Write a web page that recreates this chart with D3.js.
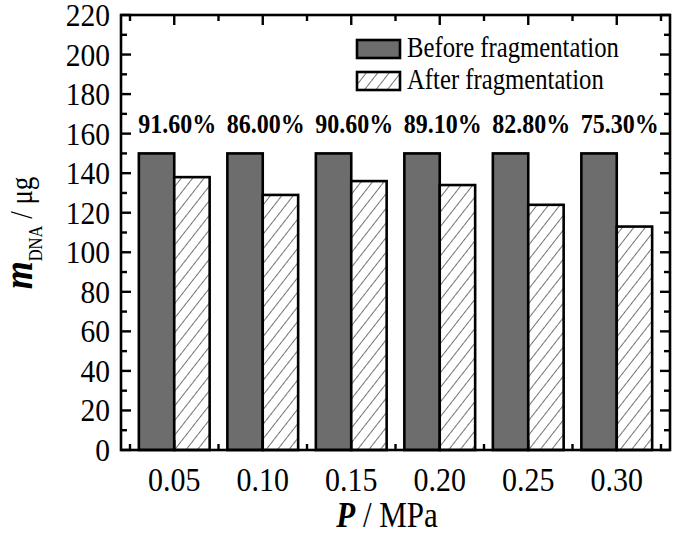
<!DOCTYPE html>
<html><head><meta charset="utf-8">
<script src="https://cdn.jsdelivr.net/npm/d3@7"></script>
<style>
body{margin:0;background:#fff;}
svg{display:block;}
text{font-family:"Liberation Serif","Times New Roman",serif;fill:#000;}
</style></head>
<body>
<svg id="c" width="675" height="542"></svg>
<script>
const categories = ["0.05","0.10","0.15","0.20","0.25","0.30"];
const seriesNames = ["Before fragmentation","After fragmentation"];
const beforeValues = [150,150,150,150,150,150];
const afterValues = [138,129,136,134,124,113];
const percentLabels = ["91.60%","86.00%","90.60%","89.10%","82.80%","75.30%"];
const yTicks = [0,20,40,60,80,100,120,140,160,180,200,220];

const svg = d3.select("#c");
const L=121, R=670, T=15, B=450;

const defs = svg.append("defs");
const pat = defs.append("pattern").attr("id","hatch").attr("patternUnits","userSpaceOnUse")
  .attr("width",9).attr("height",9).attr("patternTransform","rotate(38)");
pat.append("rect").attr("width",9).attr("height",9).attr("fill","#fff");
pat.append("line").attr("x1",0).attr("y1",0).attr("x2",0).attr("y2",9).attr("stroke","#000").attr("stroke-width",1.1);

const y = d3.scaleLinear().domain([0,220]).range([B,T]);
const x = d3.scaleBand().domain(categories).range([130,661]).padding(0);
const x1 = d3.scaleBand().domain(seriesNames).range([x.bandwidth()*0.1, x.bandwidth()*0.9]).padding(0);

const data = categories.map((c,i)=>({cat:c, vals:[beforeValues[i], afterValues[i]], pct:percentLabels[i]}));

function stxt(parent, px, py, k){
  return parent.append("text").attr("transform",`translate(${px},${py}) scale(1,${k})`);
}

// bars
const g = svg.append("g");
data.forEach(d=>{
  d.vals.forEach((v,j)=>{
    g.append("rect")
      .attr("x", x(d.cat)+x1(seriesNames[j]))
      .attr("y", y(v))
      .attr("width", x1.bandwidth())
      .attr("height", y(0)-y(v))
      .attr("fill", j===0 ? "#6d6d6d" : "url(#hatch)")
      .attr("stroke","#000").attr("stroke-width",2.6);
  });
  stxt(svg, x(d.cat)+x.bandwidth()/2+3, 133, 1.15)
    .attr("text-anchor","middle").attr("font-weight","bold").attr("font-size",24)
    .text(d.pct);
});

// axes ticks (inward)
const axes = svg.append("g").attr("stroke","#000").attr("stroke-width",2.4);
const yMinor = d3.range(0,221,10);
yMinor.forEach(v=>{
  const len = v%20===0 ? 10 : 6;
  axes.append("line").attr("x1",L).attr("x2",L+len).attr("y1",y(v)).attr("y2",y(v));
  axes.append("line").attr("x1",R).attr("x2",R-len).attr("y1",y(v)).attr("y2",y(v));
});
const bounds = categories.map(c=>x(c)).concat([x(categories[categories.length-1])+x.bandwidth()]);
bounds.forEach(b=>{
  axes.append("line").attr("x1",b).attr("x2",b).attr("y1",B).attr("y2",B-6);
  axes.append("line").attr("x1",b).attr("x2",b).attr("y1",T).attr("y2",T+6);
});
categories.forEach(c=>{
  const cx = x(c)+x.bandwidth()/2;
  axes.append("line").attr("x1",cx).attr("x2",cx).attr("y1",B).attr("y2",B-10);
  axes.append("line").attr("x1",cx).attr("x2",cx).attr("y1",T).attr("y2",T+10);
});
svg.append("rect").attr("x",L).attr("y",T).attr("width",R-L).attr("height",B-T)
  .attr("fill","none").attr("stroke","#000").attr("stroke-width",2.6);

// tick labels
yTicks.forEach(v=>{
  stxt(svg, 110, y(v)+11, 1.06).attr("text-anchor","end").attr("font-size",29.5).text(v);
});
categories.forEach(c=>{
  stxt(svg, x(c)+x.bandwidth()/2, 491, 1.15).attr("text-anchor","middle").attr("font-size",30).text(c);
});

// axis titles
const xt = stxt(svg, 387, 527, 1.15).attr("text-anchor","middle").attr("font-size",31);
xt.append("tspan").attr("font-weight","bold").attr("font-style","italic").text("P");
xt.append("tspan").text(" / MPa");

const yt = svg.append("text").attr("transform","translate(32,233) rotate(-90) scale(1,1.2)").attr("text-anchor","middle").attr("font-size",27);
yt.append("tspan").attr("font-weight","bold").attr("font-style","italic").attr("font-size",36).text("m");
yt.append("tspan").attr("font-size",16.5).attr("dy",8).text("DNA");
yt.append("tspan").attr("dy",-8).text(" / μg");

// legend
const leg = svg.append("g");
seriesNames.forEach((s,i)=>{
  const ly = 40 + i*32;
  leg.append("rect").attr("x",357).attr("y",ly).attr("width",43).attr("height",18)
    .attr("fill", i===0 ? "#6d6d6d" : "url(#hatch)").attr("stroke","#000").attr("stroke-width",2.6);
  stxt(leg, 407, ly+17, 1.15).attr("font-size",24.7).text(s);
});
</script>
</body></html>
